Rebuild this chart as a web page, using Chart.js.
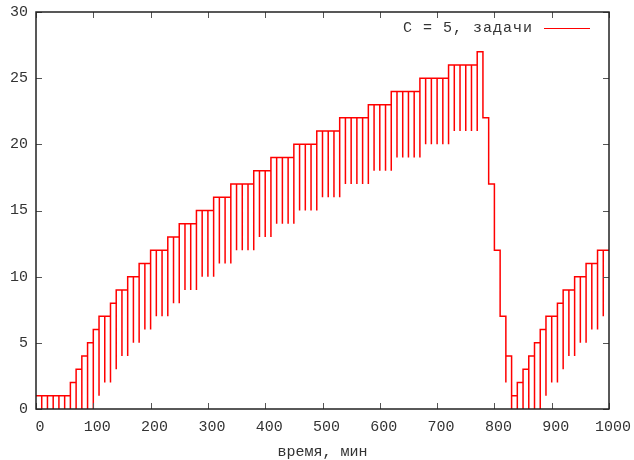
<!DOCTYPE html>
<html>
<head>
<meta charset="utf-8">
<script src="https://cdn.jsdelivr.net/npm/chart.js@4/dist/chart.umd.min.js"></script>
<style>
    html, body { margin: 0; padding: 0; background: #fff; }
    #wrap { width: 634px; height: 460px; }
</style>
</head>
<body>
<div id="wrap"><canvas id="queue-graph"></canvas></div>
<script>
// Constants
const lineColor = "rgba(255, 0, 0, 1)";
const frameColor = "#222";
const textColor = "#333";
const fontFamily = "'Liberation Mono', 'DejaVu Sans Mono', monospace";

// Data: start of every 10 min interval, queue level in it,
// and the low point reached at the start of the interval
const times = [
    0, 10, 20, 30, 40, 50, 60, 70, 80, 90,
    100, 110, 120, 130, 140, 150, 160, 170, 180, 190,
    200, 210, 220, 230, 240, 250, 260, 270, 280, 290,
    300, 310, 320, 330, 340, 350, 360, 370, 380, 390,
    400, 410, 420, 430, 440, 450, 460, 470, 480, 490,
    500, 510, 520, 530, 540, 550, 560, 570, 580, 590,
    600, 610, 620, 630, 640, 650, 660, 670, 680, 690,
    700, 710, 720, 730, 740, 750, 760, 770, 780, 790,
    800, 810, 820, 830, 840, 850, 860, 870, 880, 890,
    900, 910, 920, 930, 940, 950, 960, 970, 980, 990,
];
const levels = [
    1, 1, 1, 1, 1, 1, 2, 3, 4, 5,
    6, 7, 7, 8, 9, 9, 10, 10, 11, 11,
    12, 12, 12, 13, 13, 14, 14, 14, 15, 15,
    15, 16, 16, 16, 17, 17, 17, 17, 18, 18,
    18, 19, 19, 19, 19, 20, 20, 20, 20, 21,
    21, 21, 21, 22, 22, 22, 22, 22, 23, 23,
    23, 23, 24, 24, 24, 24, 24, 25, 25, 25,
    25, 25, 26, 26, 26, 26, 26, 27, 22, 17,
    12, 7, 4, 1, 2, 3, 4, 5, 6, 7,
    7, 8, 9, 9, 10, 10, 11, 11, 12, 12,
];
const lows = [
    null, 0, 0, 0, 0, 0, 0, 0, 0, 0,
    0, 1, 2, 2, 3, 4, 4, 5, 5, 6,
    6, 7, 7, 7, 8, 8, 9, 9, 9, 10,
    10, 10, 11, 11, 11, 12, 12, 12, 12, 13,
    13, 13, 14, 14, 14, 14, 15, 15, 15, 15,
    16, 16, 16, 16, 17, 17, 17, 17, 17, 18,
    18, 18, 18, 19, 19, 19, 19, 19, 20, 20,
    20, 20, 20, 21, 21, 21, 21, 21, 22, 17,
    12, 7, 2, 0, 0, 0, 0, 0, 0, 1,
    2, 2, 3, 4, 4, 5, 5, 6, 6, 7,
];
const endTime = 1000;

const xTicks = [0, 100, 200, 300, 400, 500, 600, 700, 800, 900, 1000];
const yTicks = [0, 5, 10, 15, 20, 25, 30];

const legendLabel = "C = 5, задачи";
const xTitle = "время, мин";

// Build the step points: drop to the low value, then jump to the new level
function buildPoints() {
    const points = [{ x: times[0], y: levels[0] }];
    for (let i = 1; i < times.length; i++) {
        points.push({ x: times[i], y: lows[i] });
        points.push({ x: times[i], y: levels[i] });
    }
    points.push({ x: endTime, y: levels[levels.length - 1] });
    return points;
}

// Frame with inward ticks on all four sides, plus the key
const framePlugin = {
    id: "frame",
    afterDraw(chart) {
        const ctx = chart.ctx;
        const area = chart.chartArea;
        const xs = chart.scales.x;
        const ys = chart.scales.y;
        const tick = 6;

        ctx.save();
        ctx.strokeStyle = "#555";
        ctx.lineWidth = 1;
        ctx.beginPath();
        xTicks.forEach((v) => {
            const px = Math.round(xs.getPixelForValue(v)) + 0.5;
            ctx.moveTo(px, area.bottom);
            ctx.lineTo(px, area.bottom - tick);
            ctx.moveTo(px, area.top);
            ctx.lineTo(px, area.top + tick);
        });
        yTicks.forEach((v) => {
            const py = Math.round(ys.getPixelForValue(v)) + 0.5;
            ctx.moveTo(area.left, py);
            ctx.lineTo(area.left + tick, py);
            ctx.moveTo(area.right, py);
            ctx.lineTo(area.right - tick, py);
        });
        ctx.stroke();

        ctx.strokeStyle = frameColor;
        ctx.lineWidth = 1.5;
        ctx.strokeRect(area.left, area.top, area.right - area.left, area.bottom - area.top);

        // Key
        const keyY = area.top + 16;
        ctx.font = "15px " + fontFamily;
        ctx.letterSpacing = "1px";
        ctx.fillStyle = textColor;
        ctx.textAlign = "right";
        ctx.textBaseline = "middle";
        ctx.fillText(legendLabel, area.right - 76, keyY);
        ctx.letterSpacing = "0px";
        ctx.strokeStyle = lineColor;
        ctx.lineWidth = 1;
        ctx.beginPath();
        ctx.moveTo(area.right - 65, keyY + 0.5);
        ctx.lineTo(area.right - 19, keyY + 0.5);
        ctx.stroke();
        ctx.restore();
    },
};

// Chartjs
Chart.defaults.font.family = fontFamily;
Chart.defaults.font.size = 15;
Chart.defaults.color = textColor;

const ctx = document.getElementById("queue-graph").getContext("2d");
const chart = new Chart(ctx, {
    type: "line",
    data: {
        datasets: [
            {
                label: legendLabel,
                data: buildPoints(),
                borderColor: lineColor,
                borderWidth: 1.5,
                fill: false,
                pointRadius: 0,
                stepped: true,
            },
        ],
    },
    options: {
        responsive: true,
        maintainAspectRatio: false,
        animation: false,
        layout: {
            padding: { left: 0, right: 25, top: 12, bottom: 0 },
        },
        scales: {
            x: {
                type: "linear",
                min: 0,
                max: 1000,
                afterFit: (scale) => {
                    scale.height = 51;
                    scale.paddingLeft = 0;
                    scale.paddingRight = 0;
                },
                afterBuildTicks: (scale) => {
                    scale.ticks = xTicks.map((v) => ({ value: v }));
                },
                grid: { display: false, drawTicks: false },
                border: { display: false },
                ticks: {
                    padding: 9,
                    labelOffset: 4,
                    maxRotation: 0,
                    autoSkip: false,
                    callback: (value) => String(value),
                },
                title: {
                    display: true,
                    text: xTitle,
                    padding: { top: 0, bottom: -1 },
                },
            },
            y: {
                type: "linear",
                min: 0,
                max: 30,
                afterFit: (scale) => {
                    scale.width = 36;
                    scale.paddingTop = 0;
                    scale.paddingBottom = 0;
                },
                afterBuildTicks: (scale) => {
                    scale.ticks = yTicks.map((v) => ({ value: v }));
                },
                grid: { display: false, drawTicks: false },
                border: { display: false },
                ticks: {
                    padding: 8,
                    callback: (value) => String(value),
                },
            },
        },
        plugins: {
            legend: { display: false },
            tooltip: { enabled: false },
        },
    },
    plugins: [framePlugin],
});
</script>
</body>
</html>
